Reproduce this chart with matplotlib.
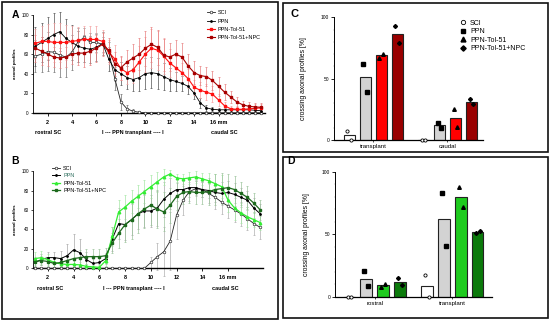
import numpy as np
import matplotlib
matplotlib.use("Agg")
import matplotlib.pyplot as plt
from matplotlib.lines import Line2D
from matplotlib.patches import Rectangle

plt.rcParams['font.family'] = ['Liberation Sans', 'DejaVu Sans']

# distance along the cord (mm), 0.5 mm steps
dist_a = np.arange(1, 19.75, 0.5)
dist_b = np.arange(1, 18.75, 0.5)

# ---- panel A (red groups) ----
sci_a = [58, 60, 62.5, 62, 59, 57, 62, 73, 77, 72, 72, 70, 62, 35, 11, 4, 1.5, 0.5] + [0] * 20
sci_a_err = [16, 18, 20, 20, 22, 20, 18, 14, 10, 10, 10, 8, 10, 12, 8, 4, 2, 1] + [0] * 20
ppn_a = [68, 72, 76, 80, 83, 76, 72, 68, 66, 65, 67, 71, 55, 44, 40, 36, 34, 36, 40, 41,
         40, 37, 34, 32, 30, 27, 20, 10, 5, 3.5, 3, 3, 3, 3, 3, 3, 2.5, 2]
ppn_a_err = [20, 20, 22, 22, 20, 20, 18, 16, 14, 14, 14, 12, 12, 12, 12, 12, 12, 14, 16, 16,
             16, 14, 12, 10, 8, 8, 6, 5, 3, 2, 2, 2, 2, 2, 2, 2, 2, 2]
tol_a = [71, 73, 73, 72, 72, 72, 73, 74, 75, 75, 75, 73, 62, 55, 45, 41, 44, 52, 60, 66,
         64, 58, 51, 46, 41, 35, 26, 23, 21, 19, 13, 7, 4, 3.5, 3.5, 4, 4.5, 5]
tol_a_err = [15, 16, 18, 20, 20, 18, 16, 14, 14, 14, 14, 12, 12, 14, 12, 12, 14, 16, 18, 20,
             20, 18, 14, 12, 10, 10, 8, 8, 8, 8, 6, 4, 3, 3, 3, 4, 4, 4]
npc_a = [66, 63, 60, 57, 56, 57, 60, 61, 61, 63, 66, 70, 64, 50, 46, 52, 56, 60, 66, 70,
         67, 59, 57, 60, 57, 48, 41, 38, 37, 33, 27, 21, 16, 11, 8, 6.5, 6, 5.5]
npc_a_err = [14, 14, 12, 10, 10, 10, 10, 12, 14, 14, 14, 12, 12, 12, 12, 12, 14, 16, 18, 18,
             18, 16, 14, 14, 14, 12, 12, 10, 10, 10, 10, 8, 6, 5, 4, 4, 4, 4]

# ---- panel B (green groups) ----
sci_b = [0] * 18 + [6, 12, 17, 28, 55, 70, 79, 82, 81, 77, 73, 68, 64, 60, 56, 51, 46, 42]
sci_b_err = [0] * 18 + [6, 14, 25, 30, 25, 15, 10, 8, 8, 10, 12, 12, 12, 12, 12, 12, 12, 12]
ppn_b = [6, 9, 11, 11, 10, 13, 19, 16, 9, 5, 6, 10, 30, 46, 45, 50, 56, 59, 59, 62,
         71, 77, 81, 81, 83, 83, 81, 80, 78, 77, 78, 76, 73, 70, 62, 56]
ppn_b_err = [5, 6, 6, 6, 8, 12, 16, 14, 8, 5, 5, 6, 12, 16, 16, 16, 16, 16, 16, 18,
             18, 16, 12, 10, 10, 8, 8, 8, 10, 12, 12, 12, 10, 10, 10, 10]
tol_b = [10, 11, 9, 6, 4.5, 4, 4, 3.5, 2, 1.5, 1, 8, 33, 58, 63, 69, 74, 79, 84, 89,
         94, 97, 93, 92, 93, 94, 92, 90, 87, 84, 70, 62, 57, 53, 50, 47]
tol_b_err = [7, 7, 6, 5, 4, 4, 4, 3, 2, 2, 2, 6, 10, 12, 12, 12, 12, 12, 12, 10,
             8, 4, 4, 5, 6, 6, 6, 8, 10, 12, 12, 12, 10, 10, 8, 8]
npc_b = [7, 8, 7, 5, 6, 8, 10, 11, 12, 12, 12, 13, 26, 36, 45, 50, 56, 61, 65, 61,
         58, 65, 74, 78, 79, 78, 78, 79, 81, 82, 83, 81, 77, 73, 67, 60]
npc_b_err = [5, 5, 5, 5, 6, 6, 8, 8, 8, 8, 8, 8, 10, 15, 18, 20, 20, 20, 20, 20,
             20, 18, 14, 12, 12, 12, 12, 14, 16, 16, 14, 14, 12, 12, 10, 10]

labels = ['SCI', 'PPN', 'PPN-Tol-51', 'PPN-Tol-51+NPC']
mm_ticks = [2, 4, 6, 8, 10, 12, 14, 16]
mm_labels = ['2', '4', '6', '8', '10', '12', '14', '16 mm']

# ---- panels C / D (crossing profiles, %) ----
groups_c = ['transplant', 'caudal']
c_bars = [[4, 0], [51, 12], [69, 18], [86, 31]]
c_points = [[[7.5, 0], [0, 0]], [[62, 39], [13.5, 10]],
            [[67, 70], [25, 10.5]], [[93, 79], [33, 29]]]
groups_d = ['rostral', 'transplant']
d_bars = [[0, 8.5], [14.5, 62], [9, 80], [12, 52]]
d_points = [[[0, 0], [17, 0]], [[20.5, 8.5], [83, 40.5]],
            [[7.5, 10.5], [88, 72]], [[15, 9], [51, 52.5]]]

fig = plt.figure(figsize=(5.5, 3.23), dpi=100)


def line_panel(ax, x, series, errs, styles, ecolors, xlim):
    for y, e, ec in zip(series, errs, ecolors):
        ax.errorbar(x, y, yerr=e, fmt='none', ecolor=ec, elinewidth=0.5,
                    capsize=1.0, capthick=0.5, clip_on=False, zorder=1)
    for y, st in zip(series, styles):
        ax.plot(x, y, clip_on=False, zorder=3, **st)
    ax.set_xlim(*xlim)
    ax.set_ylim(0, 100)
    ax.set_yticks(range(0, 101, 20))
    ax.set_xticks(mm_ticks)
    ax.set_xticklabels(mm_labels, fontsize=4, fontweight='bold')
    ax.tick_params(axis='x', length=2, width=0.6, pad=3)
    ax.tick_params(axis='y', labelsize=3.3, length=1.5, width=0.5, pad=1.5)
    for s in ['top', 'right']:
        ax.spines[s].set_visible(False)
    ax.spines['left'].set_linewidth(0.6)
    ax.spines['bottom'].set_linewidth(1.0)
    ax.set_ylabel('axonal profiles', fontsize=3.2, fontweight='bold', labelpad=3)


def add_region_text(ax, xs):
    for xv, t in zip(xs, ['rostral SC', 'I --- PPN transplant ---- I', 'caudal SC']):
        ax.text(xv, -0.205, t, transform=ax.get_xaxis_transform(), ha='center',
                va='center', fontsize=4, fontweight='bold')


# panel A
axA = fig.add_axes([0.06, 0.651, 0.4218, 0.3025])
styles_a = [
    dict(color='#222222', lw=0.6, marker='o', ms=1.9, mfc='white', mec='#222222', mew=0.45),
    dict(color='black', lw=0.6, marker='o', ms=1.0),
    dict(color='#ff1010', lw=0.8, marker='s', ms=1.7, mec='#ff1010'),
    dict(color='#a80000', lw=0.8, marker='s', ms=1.7, mec='#a80000'),
]
line_panel(axA, dist_a, [sci_a, ppn_a, tol_a, npc_a],
           [sci_a_err, ppn_a_err, tol_a_err, npc_a_err], styles_a,
           ['#707070', '#505050', '#f4a0a0', '#e88080'], (0.8, 19.8))
add_region_text(axA, [2.0, 9.0, 16.5])
hA = [Line2D([], [], **st) for st in styles_a]
axA.legend(hA, labels, loc='upper left', bbox_to_anchor=(0.376, 0.968),
           bbox_transform=fig.transFigure, frameon=False, fontsize=4,
           handlelength=1.45, handletextpad=0.55, labelspacing=0.6, borderpad=0,
           borderaxespad=0)
fig.text(15 / 550, 1 - 15 / 323, 'A', fontsize=7.5, fontweight='bold', ha='center', va='center')

# panel B
axB = fig.add_axes([0.06, 0.1693, 0.418, 0.301])
styles_b = [
    dict(color='#222222', lw=0.6, marker='o', ms=1.9, mfc='white', mec='#222222', mew=0.45),
    dict(color='black', lw=0.7, marker='o', ms=1.0),
    dict(color='#33ee33', lw=0.9, marker='^', ms=1.8, mec='#33ee33'),
    dict(color='#1d6a1d', lw=0.9, marker='s', ms=1.6, mec='#1d6a1d'),
]
line_panel(axB, dist_b, [sci_b, ppn_b, tol_b, npc_b],
           [sci_b_err, ppn_b_err, tol_b_err, npc_b_err], styles_b,
           ['#b0b0b0', '#a8a8a8', '#a6e8a6', '#9cc49c'], (0.85, 18.7))
add_region_text(axB, [2.15, 8.7, 15.8])
hB = [Line2D([], [], **st) for st in styles_b]
legB = axB.legend(hB, labels, loc='upper left', bbox_to_anchor=(0.0945, 0.4876),
                  bbox_transform=fig.transFigure, frameon=False, fontsize=4,
                  handlelength=1.45, handletextpad=0.55, labelspacing=0.45, borderpad=0,
                  borderaxespad=0)
legB.get_texts()[1].set_color('#2f6f5f')
fig.text(15 / 550, 1 - 161 / 323, 'B', fontsize=7.5, fontweight='bold', ha='center', va='center')

# bar panels
pt_markers = [dict(marker='o', mfc='white', mec='black', mew=0.6, ms=2.3),
              dict(marker='s', mfc='black', mec='black', ms=2.5),
              dict(marker='^', mfc='black', mec='black', ms=2.6),
              dict(marker='D', mfc='black', mec='black', ms=2.0)]
jit = [-0.025, 0.025]


def bar_panel(ax, groups, bars, points, colors, xlim):
    offs = [-0.324, -0.108, 0.108, 0.324]
    for k in range(4):
        pos = np.arange(len(groups)) + offs[k]
        ax.bar(pos, bars[k], width=0.15, color=colors[k], edgecolor='#222222',
               linewidth=0.8, zorder=2)
        for g in range(len(groups)):
            ax.plot(pos[g] + np.array(jit), points[k][g], ls='none', zorder=3,
                    clip_on=False, **pt_markers[k])
    ax.set_xlim(*xlim)
    ax.set_ylim(0, 100)
    ax.set_yticks([0, 50, 100])
    ax.set_yticks(range(0, 101, 10), minor=True)
    ax.set_xticks(range(len(groups)))
    ax.set_xticklabels(groups, fontsize=4.4)
    ax.tick_params(axis='x', length=1.5, width=0.5, pad=1.5)
    ax.tick_params(axis='y', which='major', labelsize=3.5, length=2, width=0.6, pad=1.5)
    ax.tick_params(axis='y', which='minor', length=1, width=0.3, color='#999999')
    for s in ['top', 'right']:
        ax.spines[s].set_visible(False)
    ax.spines['left'].set_linewidth(0.7)
    ax.spines['bottom'].set_linewidth(0.9)
    ax.set_ylabel('crossing axonal profiles [%]', fontsize=4.9)


axC = fig.add_axes([0.6073, 0.5666, 0.2709, 0.3799])
bar_panel(axC, groups_c, c_bars, c_points, ['white', '#d3d3d3', '#ff0000', '#990000'],
          (-0.53, 1.48))
axC.yaxis.set_label_coords(-0.18, 0.5)
hC = [Line2D([], [], ls='none', **dict(m, ms=m['ms'] * 1.35)) for m in pt_markers]
axC.legend(hC, labels, loc='upper left', bbox_to_anchor=(0.8364, 0.9387),
           bbox_transform=fig.transFigure, frameon=False, fontsize=5,
           handlelength=0.8, handletextpad=0.63, labelspacing=0.2, borderpad=0,
           borderaxespad=0)
fig.text(294.5 / 550, 1 - 14 / 323, 'C', fontsize=8, fontweight='bold', ha='center', va='center')

axD = fig.add_axes([0.6091, 0.0814, 0.2855, 0.387])
bar_panel(axD, groups_d, d_bars, d_points, ['white', '#d3d3d3', '#1ecb1e', '#0b7a0b'],
          (-0.51, 1.51))
axD.yaxis.set_label_coords(-0.16, 0.5)
fig.text(291 / 550, 1 - 161.5 / 323, 'D', fontsize=7.5, fontweight='bold', ha='center', va='center')

# panel frames (pixel boxes)
for x0, y0, x1, y1 in [(2, 2, 278, 319), (283, 3, 548, 152), (283, 157, 548, 318)]:
    fig.add_artist(Rectangle((x0 / 550, 1 - y1 / 323), (x1 - x0) / 550, (y1 - y0) / 323,
                             transform=fig.transFigure, fill=False, edgecolor='#111111',
                             linewidth=1.2))

fig.savefig('out.png', dpi=100)
